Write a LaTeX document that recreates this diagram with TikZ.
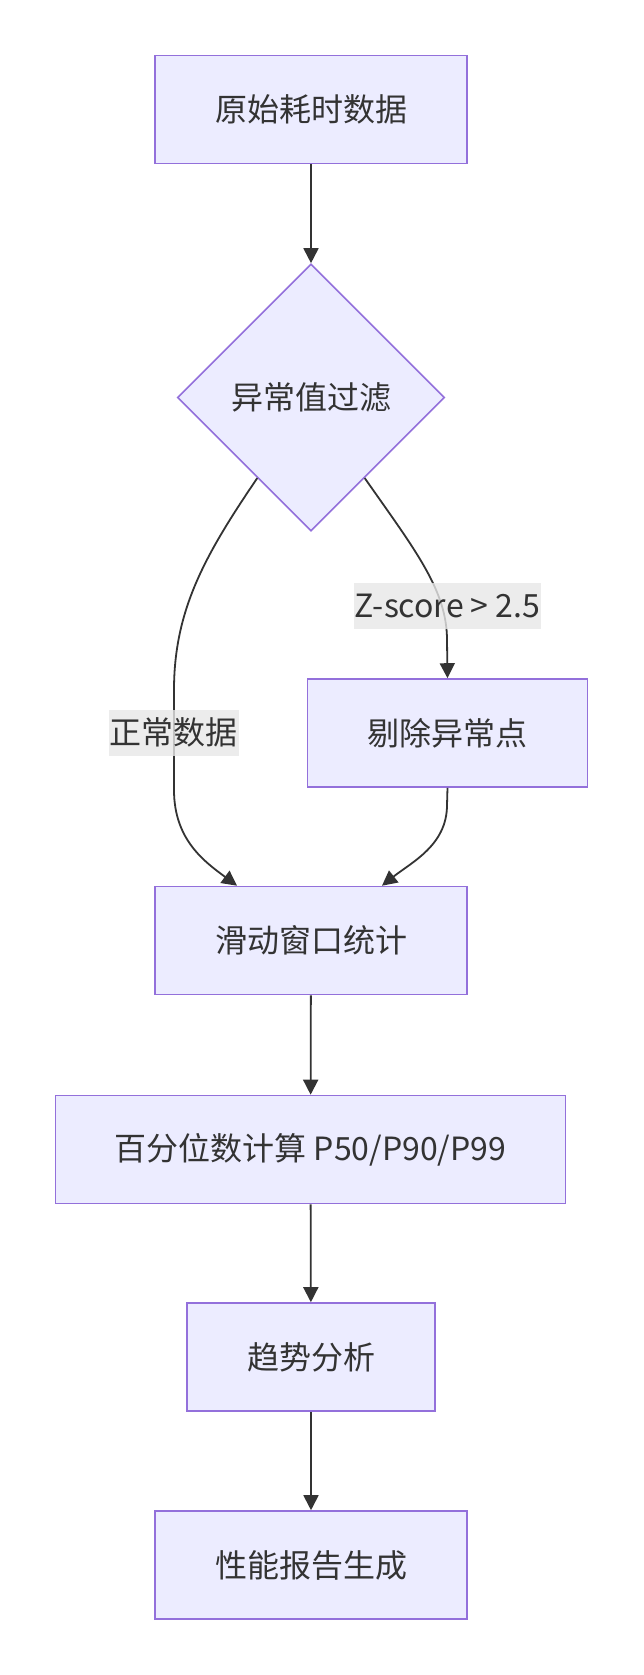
\documentclass[tikz,border=0pt]{standalone}
\usepackage{fontspec}
\setmainfont{Noto Sans CJK SC}
\usetikzlibrary{arrows.meta}
\usetikzlibrary{shapes.geometric}
\usetikzlibrary{calc}
\definecolor{boxfill}{HTML}{ECECFF}
\definecolor{boxline}{HTML}{9370DB}
\definecolor{ink}{HTML}{333333}
\definecolor{lblfill}{HTML}{E8E8E8}
\tikzset{
	proc/.style={draw=boxline, fill=boxfill, line width=1.6pt, minimum height=108pt, inner sep=0pt, text=ink},
	decide/.style={diamond, aspect=1, draw=boxline, fill=boxfill, line width=1.6pt, minimum width=267pt, minimum height=267pt, inner sep=0pt, text=ink},
	edgelbl/.style={fill=lblfill, fill opacity=0.8, text opacity=1, text=ink, minimum height=46pt, inner xsep=1pt, inner ysep=0pt},
	flow/.style={->, draw=ink, line width=1.8pt}
}

\begin{document}
\begin{tikzpicture}[x=1pt, y=-1pt, >={Triangle[length=15pt,width=15pt]}, every node/.style={font=\fontsize{32}{38}\selectfont}]

	\fill[white] (0,0) rectangle (643,1675);
	\useasboundingbox (0,0) rectangle (643,1675);

	\node[proc, minimum width=312pt]	(raw)		at (311, 109.5)		{原始耗时数据};
	\node[decide]				(filter)	at (311, 397.5)		{异常值过滤};
	\node[proc, minimum width=280pt]	(remove)	at (447.5, 733)		{剔除异常点};
	\node[proc, minimum width=312pt]	(window)	at (311, 940.5)		{滑动窗口统计};
	\node[proc, minimum width=510pt]	(pct)		at (310.5, 1149.5)	{百分位数计算 P50/P90/P99};
	\node[proc, minimum width=248pt]	(trend)		at (311, 1357)		{趋势分析};
	\node[proc, minimum width=312pt]	(report)	at (311, 1565)		{性能报告生成};

	\draw[flow] (raw) -- (filter);

	% branches
	\draw[flow] ($(filter.west)!0.6!(filter.south)$) .. controls (205, 555) and (174, 610) .. (174, 690)
		-- (174, 790) .. controls (174, 840) and (205, 862) .. ([xshift=-74pt]window.north);
	\draw[flow] ($(filter.south)!0.4!(filter.east)$) .. controls (415, 550) and (447, 590) .. (447, 640)
		-- (remove.north);
	\draw[flow] (remove.south) -- (447, 805) .. controls (447, 845) and (412, 862) .. ([xshift=71pt]window.north);

	\draw[flow] (window) -- (pct);
	\draw[flow] (pct) -- (trend);
	\draw[flow] (trend) -- (report);

	% labels
	\node[edgelbl] (normal)	at (173.5, 732.5)	{正常数据};
	\node[edgelbl] (zscore)	at (447.5, 605.5)	{Z-score > 2.5};

\end{tikzpicture}
\end{document}
